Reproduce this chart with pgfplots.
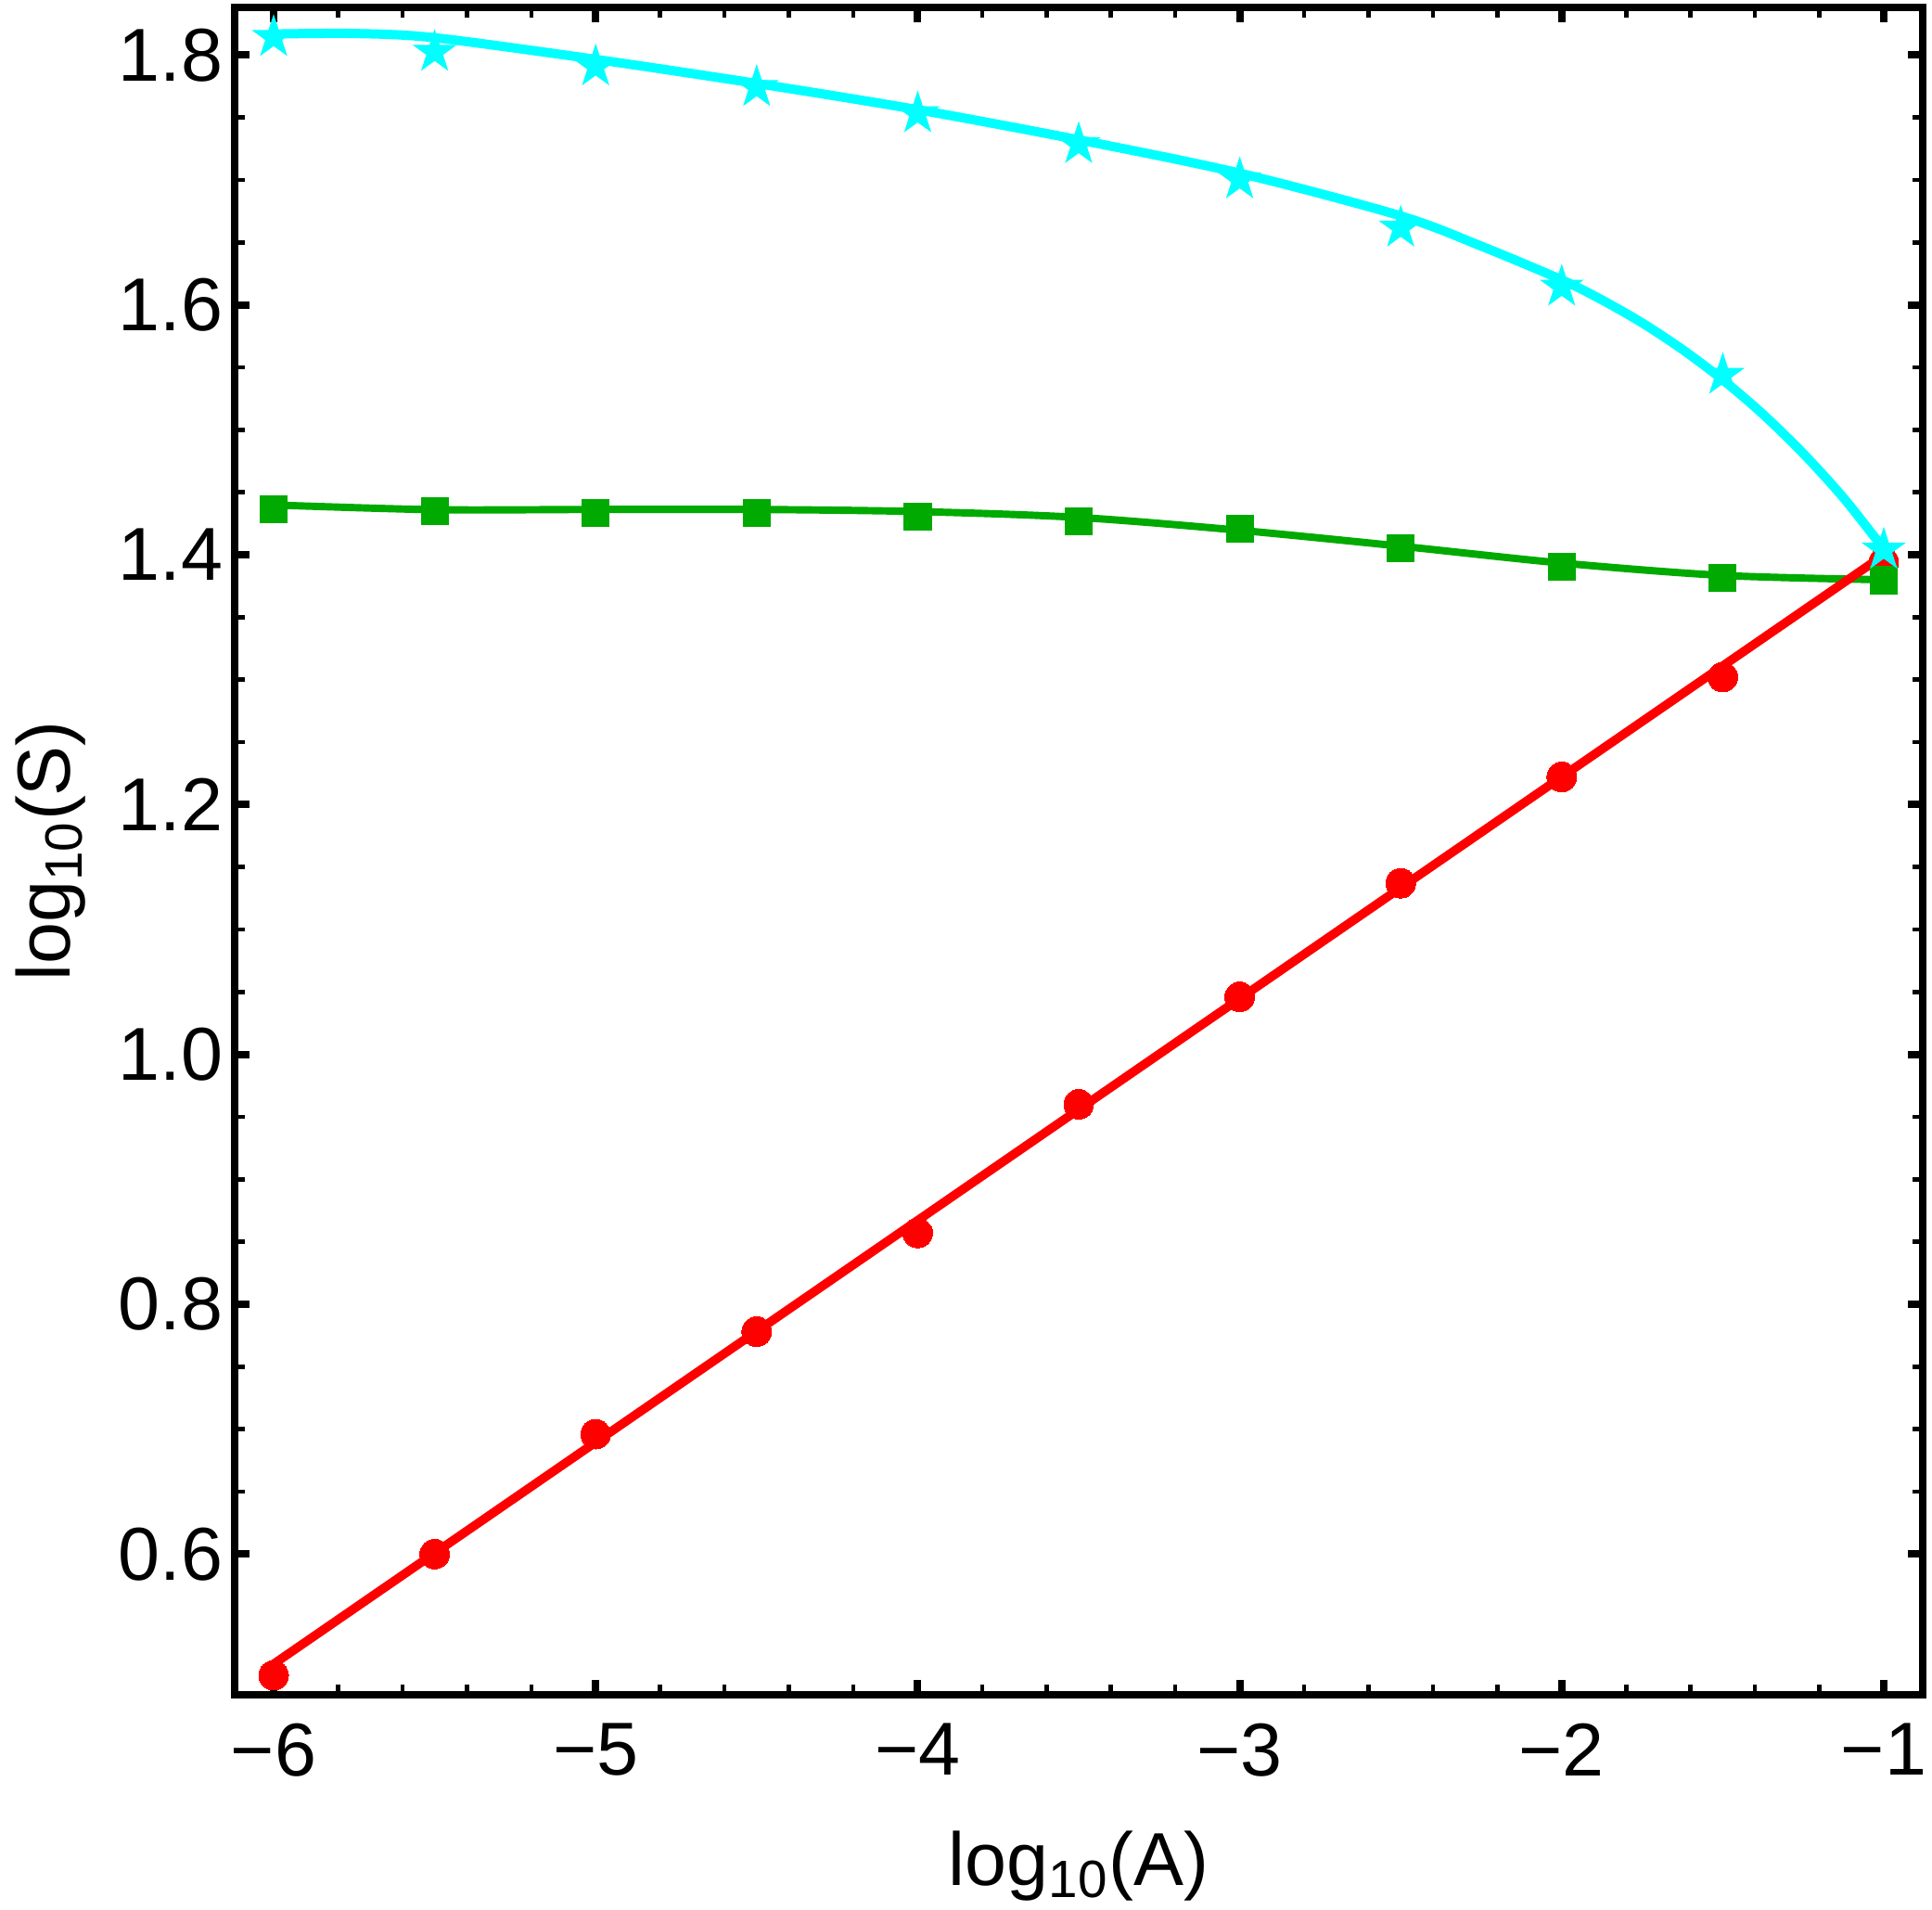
\documentclass[border=0pt]{standalone}
\usepackage{pgfplots}
\pgfplotsset{compat=1.18}
\usepackage{fontspec}
\setmainfont{Liberation Sans}
\definecolor{mgreen}{rgb}{0,0.667,0}
\definecolor{mcyan}{rgb}{0,1,1}
\definecolor{mred}{rgb}{1,0,0}
\pgfdeclareplotmark{fstar}{%
  \pgfpathmoveto{\pgfpointpolar{90}{\pgfplotmarksize}}%
  \pgfpathlineto{\pgfpointpolar{126}{0.382\pgfplotmarksize}}%
  \pgfpathlineto{\pgfpointpolar{162}{\pgfplotmarksize}}%
  \pgfpathlineto{\pgfpointpolar{198}{0.382\pgfplotmarksize}}%
  \pgfpathlineto{\pgfpointpolar{234}{\pgfplotmarksize}}%
  \pgfpathlineto{\pgfpointpolar{270}{0.382\pgfplotmarksize}}%
  \pgfpathlineto{\pgfpointpolar{306}{\pgfplotmarksize}}%
  \pgfpathlineto{\pgfpointpolar{342}{0.382\pgfplotmarksize}}%
  \pgfpathlineto{\pgfpointpolar{18}{\pgfplotmarksize}}%
  \pgfpathlineto{\pgfpointpolar{54}{0.382\pgfplotmarksize}}%
  \pgfpathclose
  \pgfusepathqfill
}
\begin{document}
\begin{tikzpicture}
\begin{axis}[
  scale only axis,
  width=436.7pt, height=436.5pt,
  xmin=-6.121, xmax=-0.879,
  ymin=0.4873, ymax=1.8381,
  axis line style={line width=1.9pt, black},
  tick align=inside,
  xtick={-6,-5,-4,-3,-2,-1},
  xticklabels={−6,−5,−4,−3,−2,−1},
  ytick={0.6,0.8,1.0,1.2,1.4,1.6,1.8},
  yticklabels={0.6,0.8,1.0,1.2,1.4,1.6,1.8},
  minor x tick num=4,
  minor y tick num=3,
  major tick length=3.9pt,
  minor tick length=2.7pt,
  major tick style={line width=1.9pt, black},
  minor tick style={line width=1.1pt, black},
  tick label style={font=\fontsize{19.4}{23}\selectfont, inner sep=0pt},
  xticklabel style={anchor=north, yshift=-7.2pt},
  yticklabel style={anchor=east, xshift=-2.9pt},
  label style={font=\fontsize{19.4}{23}\selectfont},
  xlabel={log\textsubscript{10}(A)},
  ylabel={log\textsubscript{10}(S)},
  xlabel style={at={(axis description cs:0.5,-0.1131)}, anchor=base},
  ylabel style={at={(axis description cs:-0.0973,0.5)}, anchor=base},
  clip=false,
]
% fitted curves
\addplot[mgreen, line width=1.9pt, smooth, no markers] coordinates {
(-6,1.4398) (-5.5,1.4360) (-5,1.4362) (-4.5,1.4362) (-4,1.4345) (-3.5,1.4298)
(-3,1.4195) (-2.5,1.4068) (-2,1.3933) (-1.5,1.3834) (-1,1.3799)};
\addplot[mred, line width=2.3pt, no markers] coordinates {
(-6,0.512) (-1,1.3997)};
\addplot[mcyan, line width=2.4pt, smooth, no markers] coordinates {
(-6,1.8168) (-5.75,1.8172) (-5.5,1.8138) (-5,1.7965) (-4.5,1.7772) (-4,1.7562)
(-3.5,1.7321) (-3,1.7054) (-2.5,1.6712) (-2.25,1.647) (-2,1.620) (-1.875,1.6039)
(-1.75,1.5855) (-1.625,1.5642) (-1.5,1.540) (-1.375,1.5124) (-1.25,1.481)
(-1.125,1.4455) (-1,1.4046)};
% data points
\addplot[only marks, mark=*, mark size=3.84pt, color=mred, mark options={line width=0pt}] coordinates {
(-6,0.503) (-5.5,0.600) (-5,0.696) (-4.5,0.778) (-4,0.857) (-3.5,0.960)
(-3,1.046) (-2.5,1.137) (-2,1.222) (-1.5,1.302) (-1,1.394)};
\addplot[only marks, mark=square*, mark size=3.5pt, color=mgreen, mark options={line width=0pt}] coordinates {
(-6,1.4365) (-5.5,1.4350) (-5,1.4336) (-4.5,1.4336) (-4,1.4306) (-3.5,1.4269)
(-3,1.4210) (-2.5,1.4053) (-2,1.3905) (-1.5,1.3816) (-1,1.3795)};
\addplot[only marks, mark=fstar, mark size=6pt, color=mcyan, mark options={fill=mcyan}] coordinates {
(-6,1.8142) (-5.5,1.8023) (-5,1.7907) (-4.5,1.7741) (-4,1.7531) (-3.5,1.7285)
(-3,1.7003) (-2.5,1.6616) (-2,1.6143) (-1.5,1.5438) (-1,1.4038)};
\coordinate (sw) at (rel axis cs:0,0);
\coordinate (ne) at (rel axis cs:1,1);
\end{axis}
\path (sw) ++(-60.72pt,-55.44pt) coordinate (bbsw);
\path (ne) ++(2.4pt,1.92pt) coordinate (bbne);
\pgfresetboundingbox
\path (bbsw) rectangle (bbne);
\end{tikzpicture}
\end{document}
